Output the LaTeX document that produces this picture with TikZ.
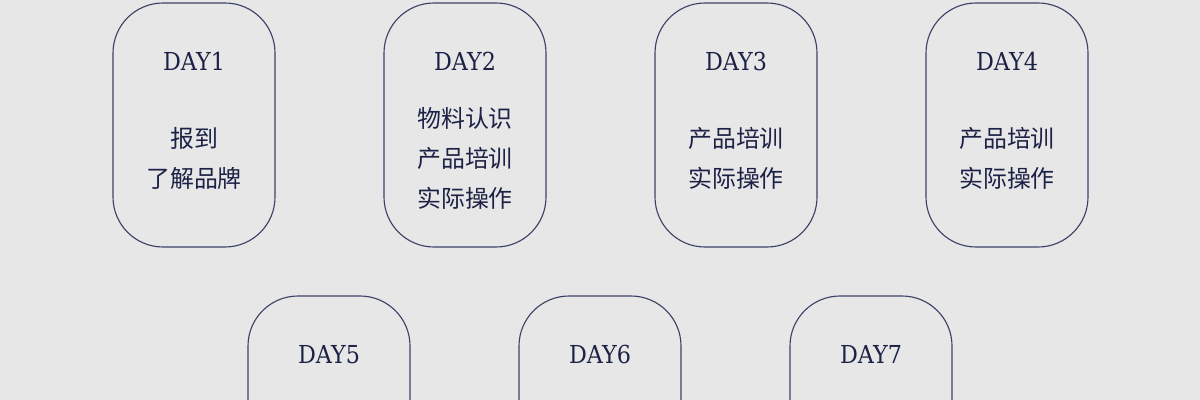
\documentclass[tikz,border=0pt]{standalone}
\usepackage{fontspec}
\setmainfont{DejaVu Serif Condensed}
\newfontfamily\cjk{Noto Sans CJK SC}
\usepackage{tikz}
\usetikzlibrary{calc,positioning}
\definecolor{bggrey}{HTML}{E7E7E7}
\definecolor{navy}{HTML}{1C2246}
\definecolor{navyline}{HTML}{3C4266}

\begin{document}
\begin{tikzpicture}[x=0.025cm,y=-0.025cm]

\tikzset{daybox/.style={draw=navyline,line width=0.8pt,rounded corners=50*0.025cm,minimum width=162*0.025cm,minimum height=244*0.025cm,inner sep=0pt},
daytitle/.style={font=\fontsize{17.6}{19}\selectfont,text=navy,inner sep=0pt},
daytext/.style={font=\cjk\fontsize{17}{28.4}\selectfont,text=navy,align=center,inner sep=0pt}}

% Background
\fill[bggrey] (0,0) rectangle (1200,400);
\useasboundingbox (0,0) rectangle (1200,400);

% Top row
\node[daybox] (d1) at (194,125) {};
\node[daybox] (d2) at (465,125) {};
\node[daybox] (d3) at (736,125) {};
\node[daybox] (d4) at (1007,125) {};

% Bottom row
\node[daybox] (d5) at (329,418) {};
\node[daybox] (d6) at (600,418) {};
\node[daybox] (d7) at (871,418) {};

% Titles
\foreach \i in {1,...,7}{
\node[daytitle] (t\i) at ($(d\i.north)+(0,59)$) {DAY\i};
}

% Tasks
\node[daytext] (c1) at ($(d1.north)+(0,156)$) {报到\\了解品牌};
\node[daytext] (c2) at ($(d2.north)+(0,156)$) {物料认识\\产品培训\\实际操作};
\node[daytext] (c3) at ($(d3.north)+(0,156)$) {产品培训\\实际操作};
\node[daytext] (c4) at ($(d4.north)+(0,156)$) {产品培训\\实际操作};

\end{tikzpicture}
\end{document}
